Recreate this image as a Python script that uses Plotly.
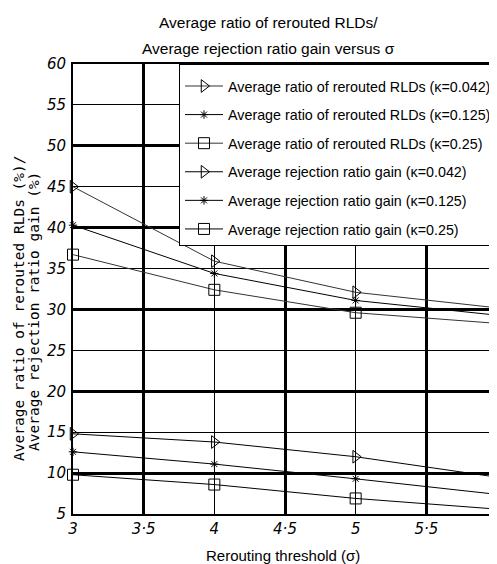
import plotly.graph_objects as go

sigma = [3, 4, 5, 6]

# Average ratio of rerouted RLDs (%)
rerouted_k0042 = [45.0, 35.9, 32.1, 30.2]
rerouted_k0125 = [40.3, 34.4, 31.1, 29.3]
rerouted_k025 = [36.7, 32.4, 29.6, 28.3]

# Average rejection ratio gain (%)
gain_k0042 = [14.8, 13.8, 12.0, 9.5]
gain_k0125 = [12.6, 11.1, 9.3, 7.4]
gain_k025 = [9.8, 8.6, 6.9, 5.6]

names = [
    "Average ratio of rerouted RLDs (κ=0.042)",
    "Average ratio of rerouted RLDs (κ=0.125)",
    "Average ratio of rerouted RLDs (κ=0.25)",
    "Average rejection ratio gain (κ=0.042)",
    "Average rejection ratio gain (κ=0.125)",
    "Average rejection ratio gain (κ=0.25)",
]
series = [rerouted_k0042, rerouted_k0125, rerouted_k025, gain_k0042, gain_k0125, gain_k025]
symbols = ["triangle-right-open", "asterisk-open", "square-open"] * 2
msizes = [11, 7, 11] * 2
colors = ["#333333", "#000000", "#333333", "#000000", "#000000", "#000000"]

x_ticks = [3, 3.5, 4, 4.5, 5, 5.5, 6]
x_ticktext = ["3", "3·5", "4", "4·5", "5", "5·5", "6"]
y_ticks = [5, 10, 15, 20, 25, 30, 35, 40, 45, 50, 55, 60]
x_thick = [3.5, 4.5, 5.5]
y_thick = [10, 20, 30, 40, 50, 60]

title_lines = ["Average ratio of rerouted RLDs/", "Average rejection ratio gain versus σ"]
ytitle_lines = ["Average ratio of rerouted RLDs (%)/", "Average rejection ratio gain (%)"]
xtitle = "Rerouting threshold (σ)"

fig = go.Figure()
for i, (nm, ys) in enumerate(zip(names, series)):
    fig.add_trace(go.Scatter(
        x=sigma, y=ys, name=nm, mode="lines+markers",
        line=dict(color=colors[i], width=1),
        marker=dict(symbol=symbols[i], size=msizes[i], color="black",
                    line=dict(color="black", width=1)),
        legendgroup=str(i), cliponaxis=False,
    ))

SANS = "Liberation Sans, Arial"
tickfont = dict(family="DejaVu Sans", size=15, color="black", style="italic")
fig.update_layout(
    width=497, height=556,
    margin=dict(l=65, r=8, t=56, b=50),
    paper_bgcolor="white", plot_bgcolor="white",
    font=dict(family=SANS, color="black", size=15),
    xaxis=dict(
        range=[3, 6], tickvals=x_ticks, ticktext=x_ticktext,
        tickfont=tickfont, showgrid=True, gridcolor="black", gridwidth=1,
        showline=True, linecolor="black", linewidth=2, mirror=True,
        ticks="", zeroline=False, automargin=False,
    ),
    yaxis=dict(
        range=[5, 60], tickvals=y_ticks, tickfont=tickfont,
        showgrid=True, gridcolor="black", gridwidth=1,
        showline=True, linecolor="black", linewidth=2, mirror=True,
        ticks="", zeroline=False, ticklabelstandoff=2, automargin=False,
    ),
    xaxis2=dict(range=[3, 6], overlaying="x", tickvals=x_thick, showticklabels=False,
                showgrid=True, gridcolor="black", gridwidth=2.5, zeroline=False, ticks=""),
    yaxis2=dict(range=[5, 60], overlaying="y", tickvals=y_thick, showticklabels=False,
                showgrid=True, gridcolor="black", gridwidth=2.5, zeroline=False, ticks=""),
    legend=dict(
        x=0.25, y=1, xanchor="left", yanchor="top",
        bgcolor="white", bordercolor="black", borderwidth=1,
        font=dict(family=SANS, size=14.3), tracegroupgap=7, traceorder="grouped",
        entrywidth=320, entrywidthmode="pixels", itemwidth=38,
        title=dict(text=" ", font=dict(size=4)),
    ),
    showlegend=True,
)

# plot area in page pixels: x 73..497, y 64..514
def px_x(p):
    return (p - 73) / 424.0

def px_y(p):
    return (514 - p) / 450.0

# chart title (two lines)
for txt, py in zip(title_lines, [23, 48]):
    fig.add_annotation(text=txt, xref="paper", yref="paper", x=px_x(268), y=px_y(py),
                       xanchor="center", yanchor="middle", showarrow=False,
                       font=dict(family=SANS, size=15.5, color="black"))
# y-axis title (two rotated lines)
for txt, pxv, py in zip(ytitle_lines, [19, 34], [308, 312]):
    fig.add_annotation(text=txt, xref="paper", yref="paper", x=px_x(pxv), y=px_y(py),
                       xanchor="center", yanchor="middle", showarrow=False, textangle=-90,
                       font=dict(family="DejaVu Sans Mono", size=14.5, color="black"))
# x-axis title
fig.add_annotation(text=xtitle, xref="paper", yref="paper", x=px_x(283), y=px_y(555),
                   xanchor="center", yanchor="middle", showarrow=False,
                   font=dict(family=SANS, size=15, color="black"))

# dummy trace to activate the overlay axes for thick gridlines
fig.add_trace(go.Scatter(x=[None], y=[None], xaxis="x2", yaxis="y2",
                         showlegend=False, hoverinfo="skip"))
fig.write_html("out.html")
